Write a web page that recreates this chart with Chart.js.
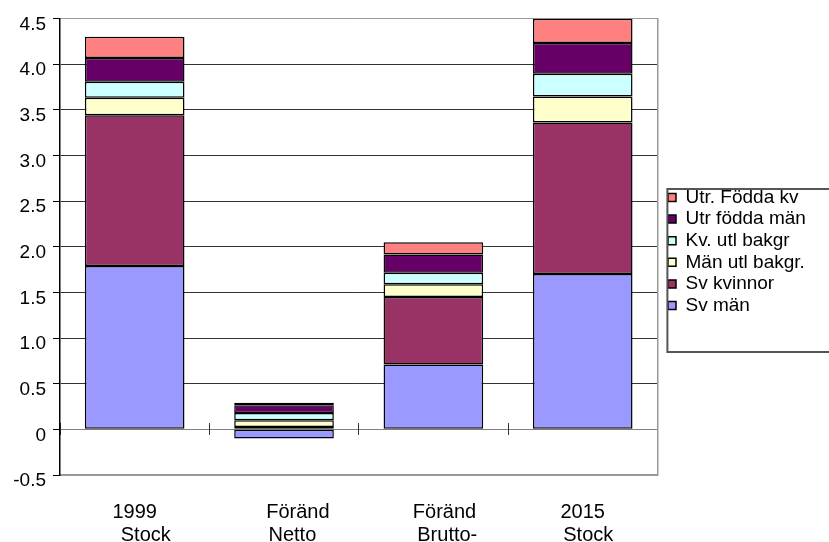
<!DOCTYPE html>
<html>
<head>
<meta charset="utf-8">
<script src="https://cdn.jsdelivr.net/npm/chart.js@4/dist/chart.umd.min.js"></script>
<style>
  html, body { margin: 0; padding: 0; background: #ffffff; }
  #c { display: block; }
</style>
</head>
<body>
<canvas id="c" width="829" height="542" style="width:829px;height:542px"></canvas>
<script>
// ---- data ----
const CATEGORIES = [['1999', '    Stock'], ['     Föränd', '   Netto'], ['    Föränd', '     Brutto-'], ['2015', '  Stock']];
const SERIES_NAMES = ['Sv män', 'Sv kvinnor', 'Män utl bakgr.', 'Kv. utl bakgr', 'Utr födda män', 'Utr. Födda kv'];
const SV_MAN      = [1.79, -0.10, 0.71, 1.70];
const SV_KVINNOR  = [1.65, 0.025, 0.74, 1.66];
const MAN_UTL     = [0.19, 0.075, 0.14, 0.285];
const KV_UTL      = [0.175, 0.08, 0.125, 0.25];
const UTR_MAN     = [0.26, 0.085, 0.20, 0.335];
const UTR_KV      = [0.235, 0.025, 0.135, 0.265];
const Y_TICK_LABELS = ['-0.5', '0', '0.5', '1.0', '1.5', '2.0', '2.5', '3.0', '3.5', '4.0', '4.5'];

// ---- styles ----
const COLORS = ['#9999FF', '#993366', '#FFFFCC', '#CCFFFF', '#660066', '#FF8080'];
const SERIES_VALUES = [SV_MAN, SV_KVINNOR, MAN_UTL, KV_UTL, UTR_MAN, UTR_KV];
const LEGEND_WIDTH = 163.6;
const LEGEND_FRAME = { top: 189, bottom: 352, inset: 2, color: '#555555', width: 2 };

Chart.defaults.font.family = "'Liberation Sans', Arial, sans-serif";
Chart.defaults.color = '#000000';

const legendFramePlugin = {
  id: 'legendFrame',
  afterInit(chart) {
    const lg = chart.legend;
    if (!lg) return;
    const fit = lg.fit;
    lg.fit = function () { fit.call(this); this.width = LEGEND_WIDTH; };
  },
  afterDraw(chart) {
    const lg = chart.legend;
    const ctx = chart.ctx;
    ctx.save();
    ctx.strokeStyle = LEGEND_FRAME.color;
    ctx.lineWidth = LEGEND_FRAME.width;
    ctx.strokeRect(lg.left + LEGEND_FRAME.inset, LEGEND_FRAME.top, chart.width, LEGEND_FRAME.bottom - LEGEND_FRAME.top);
    ctx.restore();
  }
};

const datasets = SERIES_NAMES.map((name, i) => ({
  label: name,
  data: SERIES_VALUES[i],
  backgroundColor: COLORS[i],
  borderColor: '#000000',
  borderWidth: 1.5,
  borderSkipped: false,
  barPercentage: 0.667,
  categoryPercentage: 1.0,
  xAxisID: 'x',
  yAxisID: 'y'
}));

const zeroTickAxis = (len) => ({
  type: 'category',
  axis: 'x',
  position: { y: 0 },
  offset: true,
  grid: { display: true, offset: true, drawOnChartArea: false, drawTicks: true, tickLength: len, tickColor: '#333333', tickWidth: 1 },
  ticks: { display: false },
  border: { display: false }
});

new Chart(document.getElementById('c'), {
  type: 'bar',
  data: { labels: CATEGORIES, datasets },
  plugins: [legendFramePlugin],
  options: {
    responsive: false,
    animation: false,
    layout: { padding: { top: 18, left: 0, right: 0, bottom: 0 } },
    plugins: {
      legend: {
        position: 'right',
        align: 'start',
        reverse: true,
        title: { display: true, text: '', padding: { top: 157.4, bottom: 0 }, font: { size: 10, lineHeight: 1 } },
        labels: { boxWidth: 8, boxHeight: 8, padding: 2.6, color: '#000000', font: { size: 19 } }
      },
      tooltip: { enabled: false }
    },
    scales: {
      x: {
        axis: 'x',
        stacked: true,
        position: 'bottom',
        grid: { display: false, drawTicks: false },
        border: { display: true, color: '#999999', width: 1.5 },
        ticks: { font: { size: 20, lineHeight: 1.15 }, padding: 26, autoSkip: false, maxRotation: 0, color: '#000000' },
        afterFit(s) { s.height = 67; }
      },
      y: {
        axis: 'y',
        stacked: true,
        position: 'left',
        min: -0.5,
        max: 4.5,
        ticks: {
          stepSize: 0.5,
          font: { size: 19 },
          padding: 7,
          labelOffset: 6,
          color: '#000000',
          callback: (v, i) => Y_TICK_LABELS[i]
        },
        grid: {
          color: (ctx) => {
            const v = ctx.tick ? ctx.tick.value : null;
            if (v === 0) return '#808080';
            if (v === 4.5 || v === -0.5) return '#999999';
            return '#333333';
          },
          lineWidth: 1,
          tickLength: 7,
          tickColor: '#000000'
        },
        border: { display: true, color: '#000000', width: 1.5 },
        afterFit(s) { s.width = 60; }
      },
      yR: {
        axis: 'y',
        type: 'linear',
        position: 'right',
        grid: { display: false, drawTicks: false },
        ticks: { display: false },
        border: { display: true, color: '#999999', width: 1.5 },
        afterFit(s) { s.width = 8; }
      },
      xz1: zeroTickAxis(6),
      xz2: zeroTickAxis(-6)
    }
  }
});
</script>
</body>
</html>
